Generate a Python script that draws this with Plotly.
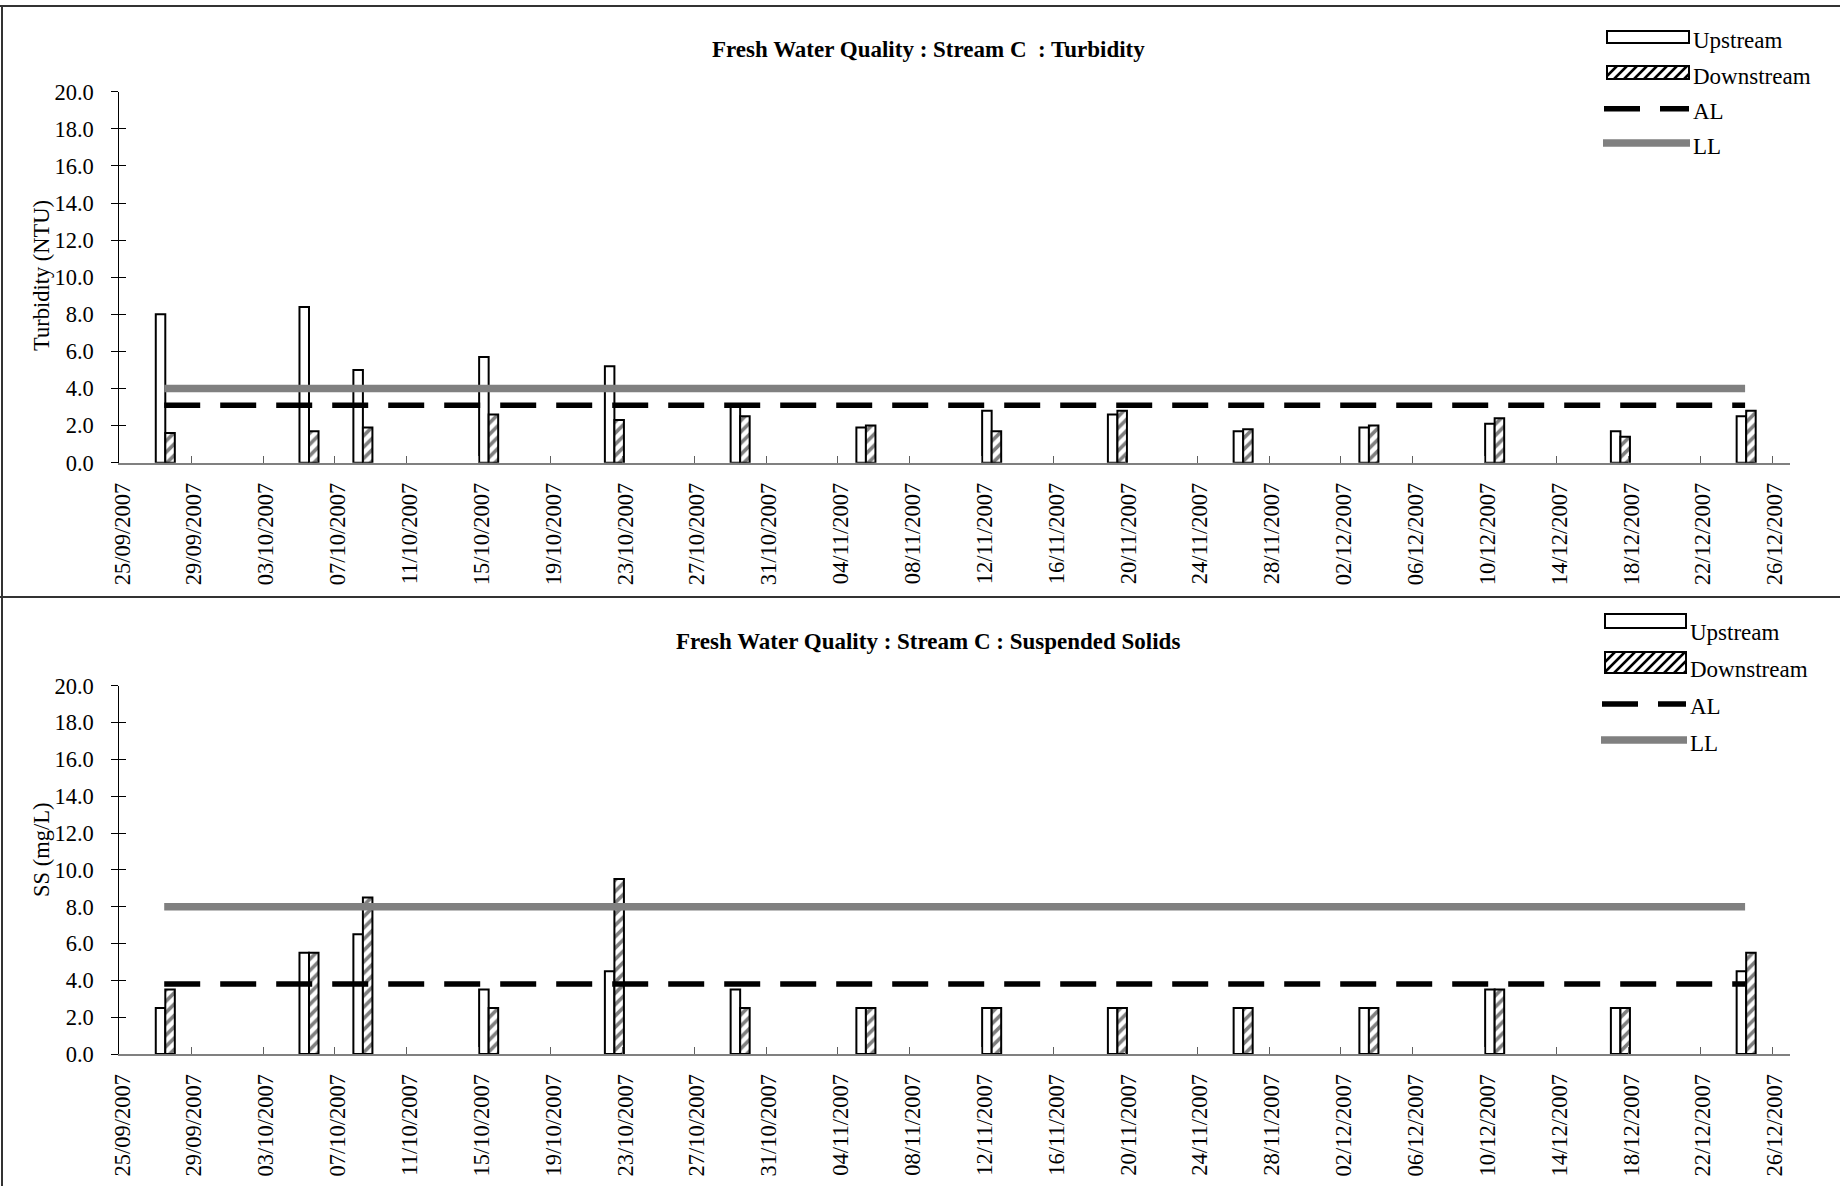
import plotly.graph_objects as go

W, H = 1840, 1186
DAY = 86400000  # ms

# ---------------- data ----------------
DATES = ["2007-09-27", "2007-10-05", "2007-10-08", "2007-10-15", "2007-10-22",
         "2007-10-29", "2007-11-05", "2007-11-12", "2007-11-19", "2007-11-26",
         "2007-12-03", "2007-12-10", "2007-12-17", "2007-12-24"]

TURB_UP = [8.0, 8.4, 5.0, 5.7, 5.2, 3.1, 1.9, 2.8, 2.6, 1.7, 1.9, 2.1, 1.7, 2.5]
TURB_DOWN = [1.6, 1.7, 1.9, 2.6, 2.3, 2.5, 2.0, 1.7, 2.8, 1.8, 2.0, 2.4, 1.4, 2.8]
TURB_AL = [3.1, 3.1, 3.1, 3.1, 3.1, 3.1, 3.1, 3.1, 3.1, 3.1, 3.1, 3.1, 3.1, 3.1]
TURB_LL = [4.0, 4.0, 4.0, 4.0, 4.0, 4.0, 4.0, 4.0, 4.0, 4.0, 4.0, 4.0, 4.0, 4.0]

SS_UP = [2.5, 5.5, 6.5, 3.5, 4.5, 3.5, 2.5, 2.5, 2.5, 2.5, 2.5, 3.5, 2.5, 4.5]
SS_DOWN = [3.5, 5.5, 8.5, 2.5, 9.5, 2.5, 2.5, 2.5, 2.5, 2.5, 2.5, 3.5, 2.5, 5.5]
SS_AL = [3.8, 3.8, 3.8, 3.8, 3.8, 3.8, 3.8, 3.8, 3.8, 3.8, 3.8, 3.8, 3.8, 3.8]
SS_LL = [8.0, 8.0, 8.0, 8.0, 8.0, 8.0, 8.0, 8.0, 8.0, 8.0, 8.0, 8.0, 8.0, 8.0]

TITLE_TOP = "Fresh Water Quality : Stream C  : Turbidity"
TITLE_BOT = "Fresh Water Quality : Stream C : Suspended Solids"
YTITLE_TOP = "Turbidity (NTU)"
YTITLE_BOT = "SS (mg/L)"
LEGEND_NAMES = ["Upstream", "Downstream", "AL", "LL"]

# ---------------- style ----------------
FONT = "Liberation Serif, Times New Roman, serif"
FS = 22.5
GREY = "#808080"


def fx(px):
    return px / W


def fy(py):
    return 1 - py / H


LINE_X = [d + " 12:00" for d in DATES]

fig = go.Figure()


def add_panel(xa, ya, up, down, al, ll):
    fig.add_trace(go.Bar(
        x=DATES, y=up, name="Upstream", xaxis=xa, yaxis=ya,
        offset=0.03 * DAY, width=0.53 * DAY,
        marker=dict(color="white", line=dict(color="black", width=2)),
        showlegend=False))
    fig.add_trace(go.Bar(
        x=DATES, y=down, name="Downstream", xaxis=xa, yaxis=ya,
        offset=0.56 * DAY, width=0.53 * DAY,
        marker=dict(color="white", line=dict(color="black", width=2),
                    pattern=dict(shape="/", fgcolor="black", bgcolor="white",
                                 size=8, solidity=0.45, fillmode="overlay")),
        showlegend=False))
    fig.add_trace(go.Scatter(
        x=LINE_X, y=ll, name="LL", mode="lines", xaxis=xa, yaxis=ya,
        line=dict(color=GREY, width=7.5), showlegend=False))
    fig.add_trace(go.Scatter(
        x=LINE_X, y=al, name="AL", mode="lines", xaxis=xa, yaxis=ya,
        line=dict(color="black", width=5.5, dash="36px,20px"), showlegend=False))


add_panel("x", "y", TURB_UP, TURB_DOWN, TURB_AL, TURB_LL)
add_panel("x2", "y2", SS_UP, SS_DOWN, SS_AL, SS_LL)

# invisible traces for overlay (inside) y tick axes
fig.add_trace(go.Scatter(x=[None], y=[None], xaxis="x", yaxis="y3", showlegend=False, hoverinfo="skip"))
fig.add_trace(go.Scatter(x=[None], y=[None], xaxis="x2", yaxis="y4", showlegend=False, hoverinfo="skip"))

XDOM = [fx(119.3), fx(1790)]
TOP_DOM = [fy(462.7), fy(91.7)]
BOT_DOM = [fy(1054), fy(685.8)]

xcommon = dict(type="date", range=["2007-09-25", "2007-12-27"], tick0="2007-09-25",
               dtick=4 * DAY, tickformat="%d/%m/%Y", tickangle=-90,
               ticks="inside", ticklen=7, tickcolor="#606060", tickwidth=1,
               ticklabelstandoff=9, ticklabelshift=3,
               showline=True, linecolor=GREY, linewidth=2, showgrid=False, zeroline=False,
               tickfont=dict(family=FONT, size=FS, color="black"), domain=XDOM,
               fixedrange=True)
ycommon = dict(range=[0, 20], dtick=2, tick0=0, tickformat=".1f",
               ticks="outside", ticklen=7, tickcolor="black", tickwidth=1,
               ticklabelstandoff=13,
               showline=True, linecolor="black", linewidth=1, showgrid=False, zeroline=False,
               tickfont=dict(family=FONT, size=FS, color="black"), fixedrange=True)
yinside = dict(range=[0, 20], dtick=2, tick0=0, ticks="inside", ticklen=7,
               tickcolor="black", tickwidth=1, showticklabels=False, showline=False,
               showgrid=False, zeroline=False, fixedrange=True)

shapes = []
annotations = []

# panel borders
bc = "#333333"
shapes.append(dict(type="line", xref="paper", yref="paper", x0=0, x1=1, y0=fy(6), y1=fy(6), line=dict(color=bc, width=2)))
shapes.append(dict(type="line", xref="paper", yref="paper", x0=0, x1=1, y0=fy(597), y1=fy(597), line=dict(color=bc, width=2)))
shapes.append(dict(type="line", xref="paper", yref="paper", x0=fx(2), x1=fx(2), y0=fy(6), y1=0, line=dict(color=bc, width=2)))

# titles
annotations.append(dict(text="<b>" + TITLE_TOP + "</b>", x=fx(928), y=fy(49), xref="paper", yref="paper",
                        xanchor="center", yanchor="middle", showarrow=False,
                        font=dict(family=FONT, size=23, color="black")))
annotations.append(dict(text="<b>" + TITLE_BOT + "</b>", x=fx(928), y=fy(641), xref="paper", yref="paper",
                        xanchor="center", yanchor="middle", showarrow=False,
                        font=dict(family=FONT, size=23, color="black")))
annotations.append(dict(text=YTITLE_TOP, x=fx(41), y=fy(276), xref="paper", yref="paper", textangle=-90,
                        xanchor="center", yanchor="middle", showarrow=False,
                        font=dict(family=FONT, size=FS, color="black")))
annotations.append(dict(text=YTITLE_BOT, x=fx(41), y=fy(850), xref="paper", yref="paper", textangle=-90,
                        xanchor="center", yanchor="middle", showarrow=False,
                        font=dict(family=FONT, size=FS, color="black")))


def hatch_path(x0, y0, x1, y1, step=10):
    h = y1 - y0
    segs = []
    xb = x0 - h
    while xb < x1:
        t0 = max(0, x0 - xb)
        t1 = min(h, x1 - xb)
        if t1 > t0:
            segs.append("M%.5f,%.5f L%.5f,%.5f" % (fx(xb + t0), fy(y1 - t0), fx(xb + t1), fy(y1 - t1)))
        xb += step
    return " ".join(segs)


def legend(sx0, sx1, tx, ys_up, ys_dn, y_al, y_ll, ty):
    shapes.append(dict(type="rect", xref="paper", yref="paper", x0=fx(sx0), x1=fx(sx1),
                       y0=fy(ys_up[1]), y1=fy(ys_up[0]), fillcolor="white",
                       line=dict(color="black", width=2)))
    shapes.append(dict(type="rect", xref="paper", yref="paper", x0=fx(sx0), x1=fx(sx1),
                       y0=fy(ys_dn[1]), y1=fy(ys_dn[0]), fillcolor="white",
                       line=dict(color="black", width=2)))
    shapes.append(dict(type="path", xref="paper", yref="paper",
                       path=hatch_path(sx0, ys_dn[0], sx1, ys_dn[1]),
                       line=dict(color="black", width=2.5)))
    shapes.append(dict(type="line", xref="paper", yref="paper", x0=fx(sx0 - 3), x1=fx(sx1),
                       y0=fy(y_al), y1=fy(y_al), line=dict(color="black", width=5.5, dash="36px,20px")))
    shapes.append(dict(type="line", xref="paper", yref="paper", x0=fx(sx0 - 4), x1=fx(sx1 + 1),
                       y0=fy(y_ll), y1=fy(y_ll), line=dict(color=GREY, width=7.5)))
    for name, yy in zip(LEGEND_NAMES, ty):
        annotations.append(dict(text=name, x=fx(tx), y=fy(yy), xref="paper", yref="paper",
                                xanchor="left", yanchor="middle", showarrow=False,
                                font=dict(family=FONT, size=23, color="black")))


legend(1607, 1689, 1691, (31, 43), (66, 79), 108.7, 143, (40.7, 76.7, 111, 146.7))
legend(1605, 1686, 1688, (614, 628), (652, 673), 704, 740, (632.5, 669, 706.5, 743))

fig.update_layout(
    width=W, height=H,
    margin=dict(l=0, r=0, t=0, b=0, autoexpand=False),
    paper_bgcolor="white", plot_bgcolor="rgba(0,0,0,0)",
    barmode="overlay",
    showlegend=False,
    hovermode=False,
    xaxis=dict(xcommon, anchor="y"),
    yaxis=dict(ycommon, anchor="x", domain=TOP_DOM),
    yaxis3=dict(yinside, anchor="x", overlaying="y"),
    xaxis2=dict(xcommon, anchor="y2"),
    yaxis2=dict(ycommon, anchor="x2", domain=BOT_DOM),
    yaxis4=dict(yinside, anchor="x2", overlaying="y2"),
    shapes=shapes,
    annotations=annotations,
)

fig.write_html("out.html", config={"displayModeBar": False},
               post_script="document.body.style.margin='0';document.body.style.overflow='hidden';")
